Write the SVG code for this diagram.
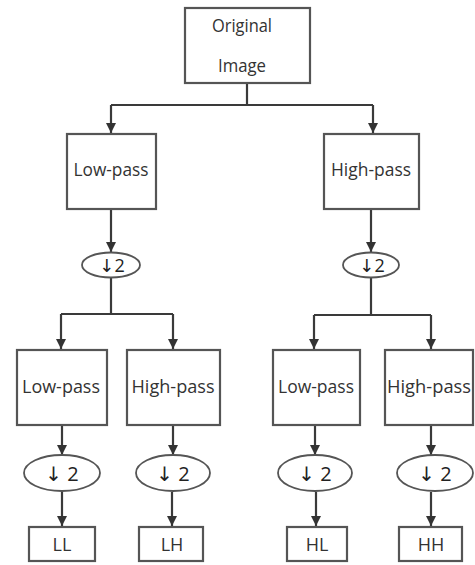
<svg xmlns="http://www.w3.org/2000/svg" width="475" height="565" viewBox="0 0 475 565">
<defs>
<style>
.box{fill:#fff;stroke:#555;stroke-width:2.2}
.ell{fill:#fff;stroke:#555;stroke-width:1.8}
.ln{fill:none;stroke:#3a3a3a;stroke-width:2.2}
.t{font-family:"Open Sans","DejaVu Sans",sans-serif;font-size:18px;fill:#333;text-anchor:middle}
.s{font-family:"Open Sans","DejaVu Sans",sans-serif;font-size:18px;fill:#222;text-anchor:middle}
.b{font-family:"Open Sans","DejaVu Sans",sans-serif;font-size:20px;fill:#222;text-anchor:middle}
</style>
<marker id="ah" viewBox="0 0 10 10" refX="10" refY="5" markerWidth="10" markerHeight="10" markerUnits="userSpaceOnUse" orient="auto">
<path d="M0,0 L10,5 L0,10 z" fill="#333"/>
</marker>
</defs>
<g id="connectors">
<path class="ln" d="M247,83 V105"/>
<path class="ln" d="M111,105 H373"/>
<path class="ln" d="M111,105 V133" marker-end="url(#ah)"/>
<path class="ln" d="M373,105 V133" marker-end="url(#ah)"/>
<path class="ln" d="M111,209 V252" marker-end="url(#ah)"/>
<path class="ln" d="M371,209 V252" marker-end="url(#ah)"/>
<path class="ln" d="M111,277 V314 M61,314 H173"/>
<path class="ln" d="M61,314 V349" marker-end="url(#ah)"/>
<path class="ln" d="M173,314 V349" marker-end="url(#ah)"/>
<path class="ln" d="M371,277 V315 M314,315 H431"/>
<path class="ln" d="M314,315 V349" marker-end="url(#ah)"/>
<path class="ln" d="M431,315 V349" marker-end="url(#ah)"/>
<path class="ln" d="M62,425 V455" marker-end="url(#ah)"/>
<path class="ln" d="M173,425 V455" marker-end="url(#ah)"/>
<path class="ln" d="M315,425 V455" marker-end="url(#ah)"/>
<path class="ln" d="M431,425 V455" marker-end="url(#ah)"/>
<path class="ln" d="M62,492 V526" marker-end="url(#ah)"/>
<path class="ln" d="M172,492 V526" marker-end="url(#ah)"/>
<path class="ln" d="M316,492 V526" marker-end="url(#ah)"/>
<path class="ln" d="M431,492 V526" marker-end="url(#ah)"/>
</g>
<g id="original">
<rect class="box" x="185" y="8" width="125" height="75"/>
<text class="t" x="242" y="32" textLength="60" lengthAdjust="spacingAndGlyphs">Original</text>
<text class="t" x="242" y="72" textLength="48" lengthAdjust="spacingAndGlyphs">Image</text>
</g>
<g id="lowpass1">
<rect class="box" x="67" y="134" width="89" height="75"/>
<text class="t" x="111" y="176" textLength="75" lengthAdjust="spacingAndGlyphs">Low-pass</text>
</g>
<g id="highpass1">
<rect class="box" x="324" y="134" width="95" height="75"/>
<text class="t" x="371" y="176" textLength="80" lengthAdjust="spacingAndGlyphs">High-pass</text>
</g>
<g id="down1">
<ellipse class="ell" cx="111" cy="265" rx="29" ry="12.5"/>
<text class="s" x="112" y="272">↓2</text>
</g>
<g id="down2">
<ellipse class="ell" cx="371" cy="265" rx="28" ry="12.5"/>
<text class="s" x="372" y="272">↓2</text>
</g>
<g id="lowpass2">
<rect class="box" x="17" y="350" width="90" height="75"/>
<text class="t" x="61" y="393" textLength="78" lengthAdjust="spacingAndGlyphs">Low-pass</text>
</g>
<g id="highpass2">
<rect class="box" x="127" y="350" width="93" height="75"/>
<text class="t" x="173" y="393" textLength="83" lengthAdjust="spacingAndGlyphs">High-pass</text>
</g>
<g id="lowpass3">
<rect class="box" x="273" y="350" width="87" height="75"/>
<text class="t" x="316" y="393" textLength="76" lengthAdjust="spacingAndGlyphs">Low-pass</text>
</g>
<g id="highpass3">
<rect class="box" x="385" y="350" width="88" height="75"/>
<text class="t" x="429" y="393" textLength="84" lengthAdjust="spacingAndGlyphs">High-pass</text>
</g>
<g id="down3">
<ellipse class="ell" cx="62" cy="473" rx="38" ry="18"/>
<text class="b" x="62" y="481">↓ 2</text>
</g>
<g id="down4">
<ellipse class="ell" cx="173" cy="473" rx="37" ry="18"/>
<text class="b" x="173" y="481">↓ 2</text>
</g>
<g id="down5">
<ellipse class="ell" cx="315" cy="473" rx="37" ry="18"/>
<text class="b" x="315" y="481">↓ 2</text>
</g>
<g id="down6">
<ellipse class="ell" cx="435" cy="473" rx="38" ry="18"/>
<text class="b" x="435" y="481">↓ 2</text>
</g>
<g id="ll">
<rect class="box" x="29" y="527" width="66" height="34"/>
<text class="t" x="62" y="551">LL</text>
</g>
<g id="lh">
<rect class="box" x="139" y="527" width="64" height="34"/>
<text class="t" x="172" y="551">LH</text>
</g>
<g id="hl">
<rect class="box" x="287" y="527" width="60" height="34"/>
<text class="t" x="317" y="551">HL</text>
</g>
<g id="hh">
<rect class="box" x="399" y="527" width="63" height="34"/>
<text class="t" x="431" y="551">HH</text>
</g>
</svg>
